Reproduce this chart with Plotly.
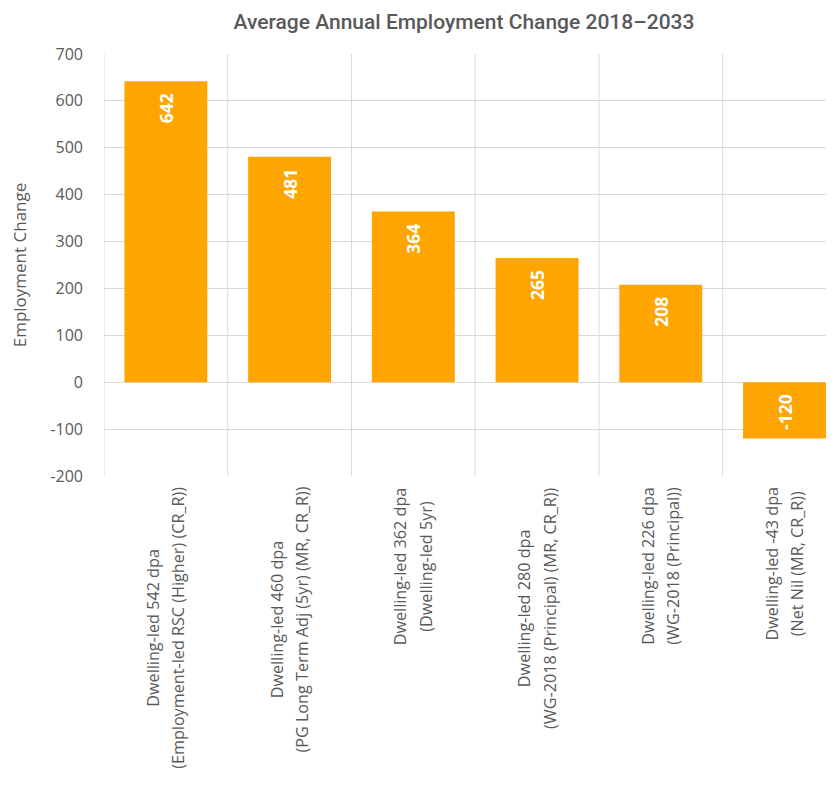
import plotly.graph_objects as go

label_line1 = [
    "Dwelling-led 542 dpa",
    "Dwelling-led 460 dpa",
    "Dwelling-led 362 dpa",
    "Dwelling-led 280 dpa",
    "Dwelling-led 226 dpa",
    "Dwelling-led -43 dpa",
]
label_line2 = [
    "(Employment-led RSC (Higher) (CR_R))",
    "(PG Long Term Adj (5yr) (MR, CR_R))",
    "(Dwelling-led 5yr)",
    "(WG-2018 (Principal) (MR, CR_R))",
    "(WG-2018 (Principal))",
    "(Net Nil (MR, CR_R))",
]
values = [642, 481, 364, 265, 208, -120]
y_ticks = [-200, -100, 0, 100, 200, 300, 400, 500, 600, 700]
y_tick_text = ["-200", "-100", "0", "100", "200", "300", "400", "500", "600", "700"]

grey = "#595959"
W, H = 826, 781  # page body has an 8px margin
fig = go.Figure()

idx = list(range(len(values)))
for keep, anchor in [(lambda v: v >= 0, "end"), (lambda v: v < 0, "start")]:
    xs = [i for i in idx if keep(values[i])]
    ys = [values[i] for i in xs]
    fig.add_trace(go.Bar(
        x=xs, y=ys,
        marker=dict(color="#FFA500", line=dict(width=0)),
        width=0.67,
        text=[str(v) + "\u00a0\u00a0" for v in ys],
        textposition="inside", insidetextanchor=anchor, textangle=-90,
        textfont=dict(family="Open Sans", size=17.5, color="white", weight="bold"),
    ))

span = "<span style='font-size:16.2px'>{}</span>"
for i in idx:
    fig.add_annotation(
        x=i, y=-200, xref="x", yref="y",
        text=span.format(label_line1[i]) + "<br>" + span.format(label_line2[i]),
        textangle=-90,
        showarrow=False, align="center", yanchor="top", xanchor="center",
        yshift=-9,
        font=dict(family="Open Sans", size=19.7, color=grey),
    )

fig.update_layout(
    width=W, height=H,
    margin=dict(l=96, r=0, t=46, b=313, pad=0),
    plot_bgcolor="white", paper_bgcolor="white",
    showlegend=False, barmode="overlay",
    title=dict(text="Average Annual Employment Change 2018\u20132033",
               x=456 / W, xanchor="center", y=1 - 14 / H, yanchor="middle",
               font=dict(family="Roboto", size=21, color=grey, weight=500)),
    xaxis=dict(
        tickmode="array", tickvals=idx,
        ticktext=[""] * len(idx),
        range=[-0.5, 5.4], showgrid=False, zeroline=False, showline=False,
        ticks="", automargin=False,
    ),
    yaxis=dict(
        range=[-200, 700], tickvals=y_ticks, ticktext=y_tick_text, showgrid=True,
        gridcolor="#D9D9D9", gridwidth=1, zeroline=False, automargin=False,
        tickfont=dict(family="Open Sans", size=16, color=grey),
        ticklabelstandoff=20,
        title=dict(text="Employment Change",
                   font=dict(family="Open Sans", size=17, color=grey),
                   standoff=32),
    ),
)

# vertical category boundary lines
for b in [-0.5, 0.5, 1.5, 2.5, 3.5, 4.5]:
    fig.add_shape(type="line", x0=b, x1=b, y0=-200, y1=700, xref="x", yref="y",
                  line=dict(color="#D9D9D9", width=1), layer="below")

fig.write_html("out.html")
